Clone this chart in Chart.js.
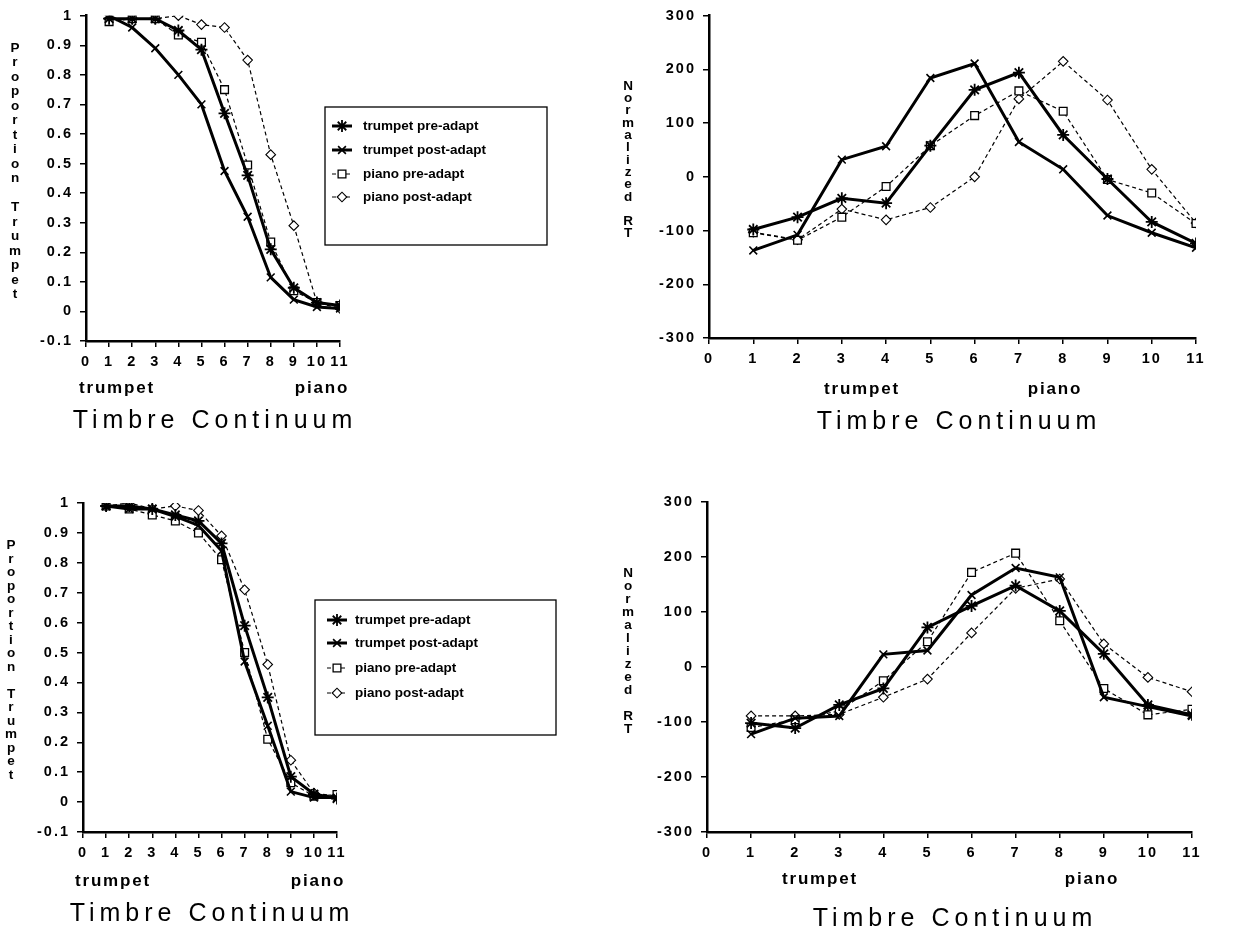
<!DOCTYPE html>
<html><head><meta charset="utf-8">
<script src="https://cdn.jsdelivr.net/npm/chart.js@4/dist/chart.umd.min.js"></script>
<style>
html,body{margin:0;padding:0;background:#fff;}
body{width:1238px;height:930px;position:relative;overflow:hidden;font-family:"Liberation Sans",Arial,sans-serif;color:#000;}
canvas{position:absolute;}
.lbl{position:absolute;white-space:nowrap;transform:translate(-50%,-50%);line-height:1;}
.sub{font-weight:bold;font-size:17px;letter-spacing:1.8px;}
.ttl{font-size:25px;letter-spacing:5px;}
.yl{position:absolute;font-weight:bold;font-size:13.5px;text-align:center;width:20px;}
</style></head>
<body>
<script>
// ---------- data ----------
const timbreSteps = [1,2,3,4,5,6,7,8,9,10,11];
const xTickValues = [0,1,2,3,4,5,6,7,8,9,10,11];
const xTickLabels = ["0","1","2","3","4","5","6","7","8","9","10","11"];
const propTickValues = [-0.1,0,0.1,0.2,0.3,0.4,0.5,0.6,0.7,0.8,0.9,1];
const propTickLabels = ["-0.1","0","0.1","0.2","0.3","0.4","0.5","0.6","0.7","0.8","0.9","1"];
const rtTickValues = [-300,-200,-100,0,100,200,300];
const rtTickLabels = ["-300","-200","-100","0","100","200","300"];
const seriesNames = ["trumpet pre-adapt","trumpet post-adapt","piano pre-adapt","piano post-adapt"];

// top-left: proportion trumpet
const trumpetPreA  = [0.99,0.99,0.99,0.95,0.885,0.67,0.46,0.21,0.08,0.03,0.02];
const trumpetPostA = [1.00,0.96,0.89,0.80,0.70,0.475,0.32,0.115,0.04,0.015,0.01];
const pianoPreA    = [0.98,0.99,0.99,0.935,0.91,0.75,0.495,0.235,0.07,0.03,0.02];
const pianoPostA   = [0.99,0.99,0.99,1.00,0.97,0.96,0.85,0.53,0.29,0.03,0.01];
// top-right: normalized RT
const trumpetPreB  = [-98,-75,-40,-49,58,162,194,78,-4,-84,-124];
const trumpetPostB = [-137,-108,32,57,184,211,65,14,-72,-104,-132];
const pianoPreB    = [-104,-118,-75,-18,58,114,160,122,-5,-30,-87];
const pianoPostB   = [-103,-117,-60,-80,-57,0,145,215,143,14,-86];
// bottom-left: proportion trumpet
const trumpetPreC  = [0.99,0.99,0.98,0.96,0.94,0.865,0.59,0.35,0.085,0.027,0.012];
const trumpetPostC = [0.99,0.98,0.98,0.955,0.925,0.84,0.47,0.255,0.035,0.015,0.015];
const pianoPreC    = [0.99,0.98,0.96,0.94,0.90,0.81,0.50,0.21,0.065,0.02,0.025];
const pianoPostC   = [0.99,1.00,0.98,0.99,0.975,0.89,0.71,0.46,0.14,0.03,0.02];
// bottom-right: normalized RT
const trumpetPreD  = [-102,-111,-69,-39,72,111,148,102,24,-69,-87];
const trumpetPostD = [-122,-93,-89,23,30,131,180,163,-55,-72,-89];
const pianoPreD    = [-110,-96,-80,-25,46,172,207,84,-39,-87,-77];
const pianoPostD   = [-89,-89,-86,-55,-22,62,143,160,42,-19,-45];

// ---------- helpers ----------
const FONT = '"Liberation Sans", Arial, sans-serif';
const styles = [
  {pointStyle:'star',     pointRadius:6,   pointBorderWidth:1.8, borderWidth:3,   borderDash:[]},
  {pointStyle:'crossRot', pointRadius:5.5, pointBorderWidth:1.6, borderWidth:3,   borderDash:[]},
  {pointStyle:'rect',     pointRadius:5.5, pointBorderWidth:1.3, borderWidth:1.2, borderDash:[4,3]},
  {pointStyle:'rectRot',  pointRadius:4.8, pointBorderWidth:1.1, borderWidth:1.2, borderDash:[4,3]}
];

const spacingPlugin = {
  id:'spacing',
  beforeDraw(chart){ chart.ctx.letterSpacing = '2px'; },
  afterDraw(chart){ chart.ctx.letterSpacing = '0px'; }
};
const boxLegend = {
  id:'boxLegend',
  afterDraw(chart, args, o){
    if(!o || !o.rows) return;
    const ctx = chart.ctx;
    ctx.save();
    ctx.letterSpacing = '0px';
    ctx.strokeStyle = '#000'; ctx.lineWidth = 1.3; ctx.setLineDash([]);
    ctx.strokeRect(o.x, o.y, o.w, o.h);
    chart.data.datasets.forEach((ds,i)=>{
      const cy = o.rows[i];
      ctx.save();
      ctx.strokeStyle = '#000'; ctx.lineWidth = ds.borderWidth; ctx.setLineDash(ds.borderDash||[]);
      ctx.beginPath(); ctx.moveTo(o.lx0, cy); ctx.lineTo(o.lx1, cy); ctx.stroke();
      ctx.setLineDash([]);
      ctx.fillStyle = '#fff'; ctx.strokeStyle = '#000'; ctx.lineWidth = ds.pointBorderWidth;
      Chart.helpers.drawPoint(ctx, {pointStyle: ds.pointStyle, radius: ds.pointRadius, rotation:0, borderWidth: ds.pointBorderWidth}, (o.lx0+o.lx1)/2, cy);
      ctx.restore();
      ctx.fillStyle = '#000'; ctx.font = 'bold 13.5px ' + FONT;
      ctx.textBaseline = 'middle'; ctx.textAlign = 'left';
      ctx.fillText(ds.label, o.tx, cy);
    });
    ctx.restore();
  }
};

function makePanel(p){
  const cv = document.createElement('canvas');
  cv.width = p.w; cv.height = p.h;
  cv.style.left = p.left + 'px'; cv.style.top = p.top + 'px';
  cv.style.width = p.w + 'px'; cv.style.height = p.h + 'px';
  document.body.appendChild(cv);
  const datasets = p.series.map((vals,i)=>Object.assign({
    label: seriesNames[i],
    data: timbreSteps.map((x,j)=>({x:x, y:vals[j]})),
    borderColor:'#000', pointBorderColor:'#000', pointBackgroundColor:'#fff',
    tension:0, fill:false
  }, styles[i]));
  const tickFont = {family:FONT, size:14.5, weight:'bold'};
  new Chart(cv.getContext('2d'), {
    type:'line',
    data:{datasets},
    options:{
      responsive:false, animation:false, devicePixelRatio:1,
      layout:{padding:p.pad},
      plugins:{legend:{display:false}, tooltip:{enabled:false}, boxLegend:p.legend || {}},
      scales:{
        x:{type:'linear', min:0, max:11,
           afterBuildTicks:s=>{ s.ticks = xTickValues.map(v=>({value:v})); },
           afterFit:s=>{ s.height = 40; },
           ticks:{autoSkip:false, maxRotation:0, minRotation:0, font:tickFont, color:'#000', padding:6,
                  callback:(v,i)=>xTickLabels[i]},
           grid:{display:true, drawOnChartArea:false, drawTicks:true, tickLength:6, color:'#000', lineWidth:1.5},
           border:{display:true, color:'#000', width:2.5}},
        y:{type:'linear', min:p.yTicks[0], max:p.yTicks[p.yTicks.length-1],
           afterBuildTicks:s=>{ s.ticks = p.yTicks.map(v=>({value:v})); },
           afterFit:s=>{ s.width = p.yw; },
           ticks:{autoSkip:false, font:tickFont, color:'#000', padding:7,
                  callback:(v,i)=>p.yLabels[i]},
           grid:{display:true, drawOnChartArea:false, drawTicks:true, tickLength:6, color:'#000', lineWidth:1.5},
           border:{display:true, color:'#000', width:2.5}}
      }
    },
    plugins:[spacingPlugin, boxLegend]
  });
}

function label(text, cls, cx, cy){
  const d = document.createElement('div');
  d.className = 'lbl ' + cls; d.textContent = text;
  d.style.left = cx + 'px'; d.style.top = cy + 'px';
  document.body.appendChild(d);
}
function stacked(text, cx, firstCy, lh){
  [...text].forEach((ch,i)=>{
    if(ch === ' ') return;
    const d = document.createElement('div');
    d.className = 'yl'; d.textContent = ch;
    d.style.left = (cx-10) + 'px';
    d.style.top = (firstCy + i*lh - lh/2) + 'px';
    d.style.height = lh + 'px'; d.style.lineHeight = lh + 'px';
    document.body.appendChild(d);
  });
}

// ---------- panels ----------
makePanel({left:0, top:0, w:600, h:440, yw:86, pad:{left:0, top:14, right:260, bottom:59},
  yTicks:propTickValues, yLabels:propTickLabels,
  series:[trumpetPreA, trumpetPostA, pianoPreA, pianoPostA],
  legend:{x:325, y:107, w:222, h:138, rows:[126,150,174,197], lx0:332, lx1:352, tx:363}});
makePanel({left:600, top:0, w:638, h:440, yw:109, pad:{left:0, top:13, right:42, bottom:62},
  yTicks:rtTickValues, yLabels:rtTickLabels,
  series:[trumpetPreB, trumpetPostB, pianoPreB, pianoPostB]});
makePanel({left:0, top:440, w:600, h:490, yw:83, pad:{left:0, top:63, right:263, bottom:58},
  yTicks:propTickValues, yLabels:propTickLabels,
  series:[trumpetPreC, trumpetPostC, pianoPreC, pianoPostC],
  legend:{x:315, y:160, w:241, h:135, rows:[180,203,228,253], lx0:327, lx1:347, tx:355}});
makePanel({left:600, top:440, w:638, h:490, yw:107, pad:{left:0, top:62, right:46, bottom:58},
  yTicks:rtTickValues, yLabels:rtTickLabels,
  series:[trumpetPreD, trumpetPostD, pianoPreD, pianoPostD]});

// ---------- axis titles and end labels ----------
stacked("Proportion Trumpet", 15, 48, 14.5);
stacked("Normalized RT", 628, 86, 12.3);
stacked("Proportion Trumpet", 11, 545, 13.5);
stacked("Normalized RT", 628, 572, 13);

label("trumpet","sub",117,387); label("piano","sub",322,387);
label("Timbre Continuum","ttl",215,419);
label("trumpet","sub",862,388); label("piano","sub",1055,388);
label("Timbre Continuum","ttl",959,420);
label("trumpet","sub",113,880); label("piano","sub",318,880);
label("Timbre Continuum","ttl",212,912);
label("trumpet","sub",820,878); label("piano","sub",1092,878);
label("Timbre Continuum","ttl",955,917);
</script>
</body></html>
